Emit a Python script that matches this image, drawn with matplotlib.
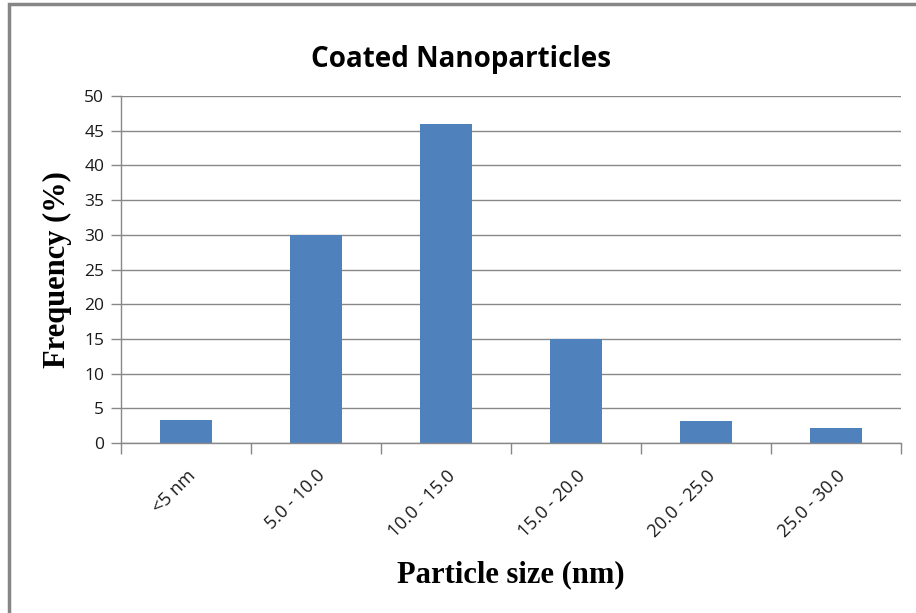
import matplotlib
matplotlib.use('Agg')
import matplotlib.pyplot as plt
from matplotlib.patches import Rectangle
import numpy as np

categories = ['<5 nm', '5.0 - 10.0', '10.0 - 15.0', '15.0 - 20.0', '20.0 - 25.0', '25.0 - 30.0']
frequency = [3.3, 30, 46, 15, 3.1, 2.2]

title = 'Coated Nanoparticles'
xlabel = 'Particle size (nm)'
ylabel = 'Frequency (%)'

grid_color = '#888888'
bar_color = '#4F81BD'

fig = plt.figure(figsize=(9.16, 6.13), dpi=100)
ax = fig.add_axes([121/916, 1 - 443/613, (901 - 121)/916, (443 - 96)/613])

x = np.arange(len(categories))
ax.bar(x, frequency, width=0.4, color=bar_color, zorder=3)

ax.set_xlim(-0.5, len(categories) - 0.5)
ax.set_ylim(0, 50)
ax.set_yticks(np.arange(0, 51, 5))
ax.yaxis.grid(True, color=grid_color, linewidth=1)
ax.set_axisbelow(True)

for s in ['top', 'right']:
    ax.spines[s].set_visible(False)
for s in ['left', 'bottom']:
    ax.spines[s].set_color(grid_color)
    ax.spines[s].set_linewidth(1)
ax.spines['bottom'].set_zorder(4)

# category labels sit between the boundary tick marks
ax.set_xticks(x)
ax.set_xticks(np.arange(-0.5, len(categories)), minor=True)
ax.tick_params(axis='x', which='major', length=0, pad=17)
ax.tick_params(axis='x', which='minor', length=8, color=grid_color, width=1)
ax.tick_params(axis='y', length=7, color=grid_color, width=1, pad=5)
ax.set_xticklabels(categories, rotation=45, ha='right', rotation_mode='anchor',
                   family='Open Sans', fontsize=13, color='#1a1a1a')
for lab in ax.get_yticklabels():
    lab.set_family('Open Sans')
    lab.set_fontsize(12.5)
    lab.set_color('#1a1a1a')

ax.set_xlabel(xlabel, family='Liberation Serif', fontweight='bold', fontsize=22)
ax.set_ylabel(ylabel, family='Liberation Serif', fontweight='bold', fontsize=22)
ax.xaxis.set_label_coords((511 - 121)/780, (443 - 575)/347)
ax.yaxis.set_label_coords((57 - 121)/780, 0.5)
ax.xaxis.label.set_va('center')
ax.yaxis.label.set_va('center')

fig.text(461/916, 1 - 59/613, title, ha='center', va='center',
         family='Open Sans', fontweight='bold', fontsize=20)

# chart frame (only left and top edges fall inside the image)
fig.patches.append(Rectangle((9/916, -0.1), 1.2, 1.1 - 4/613, transform=fig.transFigure,
                             fill=False, edgecolor='#868686', linewidth=2.5))

fig.savefig('out.png', dpi=100)
